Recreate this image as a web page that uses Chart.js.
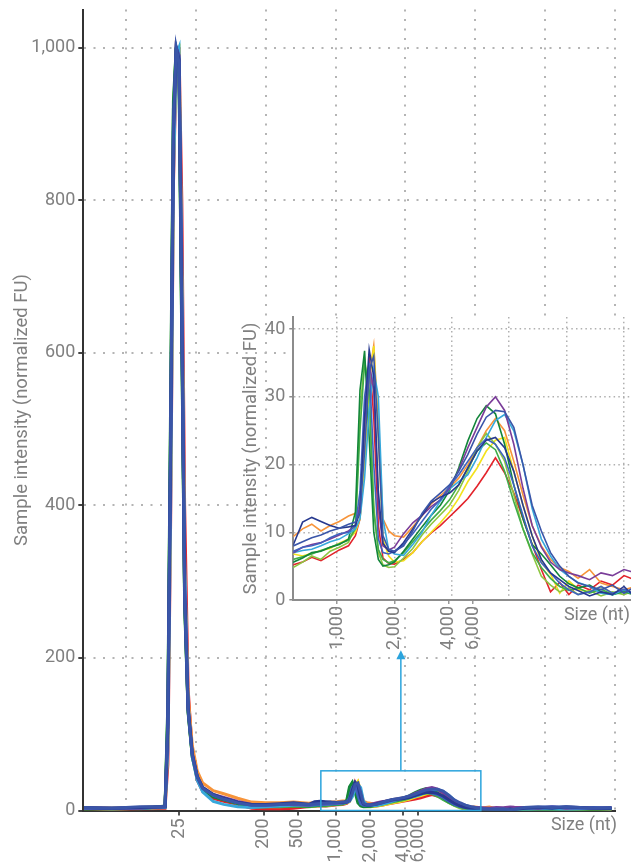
<!DOCTYPE html>
<html><head><meta charset="utf-8">
<script src="https://cdn.jsdelivr.net/npm/chart.js@4.4.0/dist/chart.umd.min.js"></script>
<style>
html,body{margin:0;padding:0;background:#fff;}
#wrap{position:relative;width:631px;height:867px;overflow:hidden;}
#main{position:absolute;left:0;top:0;}
#inset{position:absolute;left:240px;top:305px;}
</style></head><body>
<div id="wrap"><canvas id="main" width="631" height="867"></canvas><canvas id="inset" width="391" height="360"></canvas></div>
<script>
// ---------- DATA ----------
// migration-position axis (arbitrary units; size ladder labels mapped below)
const T = [4, 8, 12, 15.6, 16.0, 16.4, 16.8, 17.2, 17.6, 18.0, 18.4, 18.9, 19.5, 20.2, 21, 22.5, 24, 26, 28, 30, 32, 34,
  36.2, 37, 37.8, 38.6, 39.4, 40.2, 41, 41.6, 42, 42.4, 42.8, 43.2, 43.6, 44, 44.5, 45, 45.8, 46.6, 47.4, 48.2, 49, 49.8, 50.6, 51.4, 52.2, 53, 53.8, 54.6, 55.4, 56.2, 57, 57.8, 58.6, 59.4, 60.2, 61, 62, 63, 64, 65, 65.6,
  67, 69, 71, 73, 75, 77, 79.5];

const blue = [4,3,5,5,120,500,900,1000,980,640,280,130,72,44,29,20,15,10,7,7,8,9,
  8.0,8.6,9.2,9.6,10.2,10.6,11.2,11.5,13,22,34,36,24,9.5,7.5,7.2,8.0,10.2,12.8,14.6,15.8,17.0,19.0,21.5,24.5,27.0,28.0,27.8,25.5,20.0,14.0,10.2,7.0,5.0,3.5,2.5,2.0,1.5,2.2,1.0,1.6,
  4,5,4,5,4,3,4];
const navy = [4,3,4,5,110,480,890,1000,985,650,285,135,74,45,30,21,16,11,8,8,9,10,
  8.2,11.5,12.2,11.6,11.0,10.6,10.8,11,13,27,37,33,16,8.4,7.2,7.0,8.5,10.5,12.5,14.4,15.2,15.8,17.0,19.5,22.0,23.6,24.0,22.5,19.0,14.0,9.5,6.0,4.0,3.0,2.0,1.4,0.6,1.2,0.8,2.0,1.0,
  3,4,3,5,4,3,3];
const blue2 = [3,3,4,5,115,490,895,1000,988,645,290,133,73,44,29,20,15,10,7,7,8,9,
  7.2,7.8,8.0,8.4,9.2,9.8,10.0,11,16,30,35,20,9.0,7.0,6.8,7.2,8.2,9.8,11.6,13.4,14.8,16.8,18.5,20.5,22.5,23.8,23.0,21.0,17.0,12.5,8.0,5.5,4.0,2.5,1.5,0.8,1.2,2.0,1.0,1.6,1.2,
  3,4,5,4,3,4,3];
const purple = [3,3,3,5,105,470,880,1000,990,660,295,135,75,45,30,21,17,12,8,8,8,8,
  7.0,7.8,8.2,8.5,9.0,9.6,10.2,11,14,26,35,31,14,8.0,7.4,7.8,9.8,11.4,12.5,13.8,14.8,16.5,19.2,22.5,25.5,28.5,30.0,28.0,23.0,16.5,11.0,7.8,5.6,4.5,4.0,3.6,3.0,4.0,3.6,4.5,4.2,
  4,3,5,3,4,3,4];
const cyan = [3,2,3,4,80,400,830,990,1000,720,330,140,70,40,24,12,8,5,4,5,6,7,
  7.0,7.3,7.5,8.0,8.6,9.0,9.8,10.5,12,18,28,34,30,12,7.4,6.8,6.6,8.2,10.0,12.5,14.6,16.4,17.5,18.5,21.0,24.0,26.5,27.4,25.0,20.0,13.5,9.0,6.5,4.5,3.5,2.6,2.0,1.0,0.8,1.5,1.0,
  1,2,2,1,2,3,2];
const darkGreen = [2,3,2,6,140,540,930,1000,960,610,270,128,70,42,27,18,14,9,5,5,6,6,
  5.6,6.2,7.0,7.2,7.8,8.2,9.0,13,31,36.8,24,10,6.0,5.0,5.2,5.6,7.2,9.0,10.8,12.5,14.0,16.2,19.5,23.5,26.8,28.7,27.5,23.0,17.0,12.0,8.2,6.8,5.2,3.5,2.4,1.8,2.2,1.2,0.8,1.4,1.0,
  2,1,1,2,2,1,3];
const green = [3,2,3,5,130,520,920,1000,970,620,275,132,72,44,29,20,16,10,6,6,6,7,
  6.0,6.4,6.8,7.3,7.8,8.3,8.8,10.5,25,35,31,13,7.5,6.0,5.5,5.8,7.0,8.6,10.2,11.8,13.2,14.8,17.0,19.5,22.0,23.2,22.2,19.0,14.5,10.5,7.0,4.8,3.2,2.0,1.4,1.8,1.0,1.6,0.8,1.2,0.9,
  1,2,1,2,1,1,2];
const lightGreen = [2,2,3,5,125,510,910,1000,975,630,280,130,70,43,28,19,15,9,5,5,5,6,
  4.8,5.6,6.5,6.0,7.2,7.8,8.5,11,28,35.5,30,14,7,5.2,4.8,4.9,6.2,7.6,9.6,11.2,12.6,14.0,16.2,19.0,22.5,24.6,23.0,20.5,15.5,10.5,6.8,3.5,2.2,1.2,1.8,0.8,1.4,0.6,1.2,0.8,1.2,
  1,1,2,1,1,2,1];
const yellow = [3,2,3,4,90,430,850,995,1000,680,300,135,72,44,29,20,16,11,7,6,6,7,
  6.8,6.5,6.9,7.3,7.6,8.4,9.0,10.0,12,20,32,37.5,24,9,6.5,5.6,5.8,7.0,8.6,10.0,11.4,13.0,15.0,17.5,19.5,22.0,23.6,24.0,19.0,14.0,9.5,5.6,3.8,1.0,2.8,1.6,1.2,2.0,1.0,1.5,1.2,
  1,2,1,2,1,3,2];
const orange = [4,3,4,5,100,460,870,1000,990,670,310,150,85,52,36,26,22,16,11,10,10,11,
  9.4,10.5,11.2,10.2,11.0,11.6,12.4,12.8,14,24,33,37.6,26,12,10.2,9.5,9.3,10.8,12.4,14.2,15.4,16.6,18.0,20.0,22.5,25.0,26.8,25.0,20.5,15.5,11.0,8.0,6.0,4.8,4.2,3.2,4.5,2.5,2.0,1.5,1.8,
  2,3,2,3,2,2,3];
const red = [3,1,2,3,60,380,820,980,1000,800,400,160,75,40,25,16,12,8,3,2,2,3,
  5.2,5.6,6.3,5.8,6.6,7.4,8.0,9.5,12,22,36,27,11,6.2,5.4,5.3,6.0,7.0,8.6,9.9,11.0,12.3,13.6,15.0,16.8,18.8,21.0,18.8,15.8,12.0,8.2,4.5,1.2,2.6,0.8,2.2,1.5,2.8,2.2,3.6,3.2,
  2,1,2,1,2,1,1];

// size ladder tick labels and their positions on the migration axis
const mainSizeLabels = ['25','200','500','1,000','2,000','4,000','6,000'];
const mainSizePos = [17.6, 29.7, 34.6, 40, 45, 49.7, 51.85];
const insetSizeLabels = ['1,000','2,000','4,000','6,000'];
const insetSizePos = [40, 45, 49.7, 51.85];
const mainGridT = [10,20,30,40,50,60,70,80];
const insetGridT = [40,45,50,55,60,65];
const mainYTicks = [0,200,400,600,800,1000];
const insetYTicks = [0,10,20,30,40];

// ---------- STYLE ----------
const seriesData = [blue, navy, blue2, purple, cyan, darkGreen, green, lightGreen, yellow, orange, red];
const seriesColors = ['#3a55a8','#27398f','#3f62bf','#7a3d99','#37a8db','#12863a','#40ad49','#8dc641','#f3e21c','#f7943a','#e3232b'];
const ACCENT = '#2ba4dd';
const TXT = '#808080';

Chart.defaults.font.family = 'Roboto, "Liberation Sans", sans-serif';
Chart.defaults.font.size = 18;
Chart.defaults.color = TXT;

function makeDatasets(width) {
  return seriesData.map((ys, k) => ({
    data: T.map((t, i) => ({x: t, y: ys[i]})),
    borderColor: seriesColors[k], borderWidth: width,
    pointRadius: 0, tension: 0, fill: false
  }));
}

function xAxis(min, max, gridT, labPos, labTxt, o) {
  return {
    type: 'linear', min, max,
    afterBuildTicks: s => {
      const ticks = gridT.map(v => ({value: v, grid: true, lbl: ''}));
      labPos.forEach((v, i) => ticks.push({value: v, grid: false, lbl: labTxt[i]}));
      ticks.sort((a, b) => a.value - b.value);
      s.ticks = ticks;
    },
    afterFit: s => { s.height = o.height; s.paddingLeft = 0; s.paddingRight = 0; },
    ticks: {autoSkip: false, maxRotation: 90, minRotation: 90, padding: o.pad, color: TXT,
      callback: (v, i, ts) => ts[i].lbl},
    grid: {
      color: c => (c.tick && c.tick.grid) ? o.gridColor : 'rgba(0,0,0,0)',
      tickColor: c => (c.tick && c.tick.lbl) ? o.tickColor : 'rgba(0,0,0,0)',
      lineWidth: o.gridWidth, tickBorderDash: [], tickLength: o.tickLen, drawTicks: true
    },
    border: {display: true, color: o.axisColor, width: 2, dash: o.dash}
  };
}

function yAxis(min, max, ticksArr, o) {
  return {
    type: 'linear', min, max,
    afterBuildTicks: s => { s.ticks = ticksArr.map(v => ({value: v})); },
    afterFit: s => { s.width = o.width; s.paddingTop = 0; s.paddingBottom = 0; },
    ticks: {padding: o.pad, color: TXT, callback: v => v.toLocaleString('en-US')},
    grid: {
      color: c => (c.tick && c.tick.value > 0) ? o.gridColor : 'rgba(0,0,0,0)',
      tickColor: o.tickColor, lineWidth: o.gridWidth, tickBorderDash: [], tickLength: o.tickLen
    },
    border: {display: true, color: o.axisColor, width: 2, dash: o.dash},
    title: {display: true, text: 'Sample intensity (normalized FU)', color: TXT, font: {size: 18.5}, padding: {top: o.titlePad, bottom: 0}}
  };
}

// main annotation: zoom box + arrow + axis caption
const boxT = [37.9, 60.8];
const boxY = [0, 52];
const arrowTipY = 210;
const mainDecor = {
  id: 'mainDecor',
  afterDraw(chart) {
    const ctx = chart.ctx, x = chart.scales.x, y = chart.scales.y, a = chart.chartArea;
    ctx.save();
    ctx.strokeStyle = ACCENT; ctx.fillStyle = ACCENT; ctx.lineWidth = 1.5;
    const x0 = x.getPixelForValue(boxT[0]), x1 = x.getPixelForValue(boxT[1]);
    const yt = y.getPixelForValue(boxY[1]), yb = y.getPixelForValue(boxY[0]);
    ctx.strokeRect(x0, yt, x1 - x0, yb - yt);
    const ax = (x0 + x1) / 2, ay = y.getPixelForValue(arrowTipY);
    ctx.beginPath(); ctx.moveTo(ax, yt); ctx.lineTo(ax, ay + 7); ctx.stroke();
    ctx.beginPath(); ctx.moveTo(ax, ay); ctx.lineTo(ax - 4.5, ay + 9); ctx.lineTo(ax + 4.5, ay + 9); ctx.closePath(); ctx.fill();
    ctx.fillStyle = TXT; ctx.font = '18px Roboto, sans-serif';
    ctx.textAlign = 'right'; ctx.textBaseline = 'middle';
    ctx.fillText('Size (nt)', a.right + 2, a.bottom + 15);
    ctx.restore();
  }
};

new Chart(document.getElementById('main'), {
  type: 'line',
  data: {datasets: makeDatasets(3)},
  options: {
    responsive: false, animation: false, devicePixelRatio: 1,
    layout: {autoPadding: false, padding: {left: 7, right: 16, top: 9.5, bottom: 0}},
    plugins: {legend: {display: false}, tooltip: {enabled: false}},
    scales: {
      x: xAxis(3.9, 80, mainGridT, mainSizePos, mainSizeLabels,
        {height: 56.5, pad: 3, gridColor: '#b4b4b4', tickColor: '#555', gridWidth: 2, dash: [2, 7.5], tickLen: 5, axisColor: '#333'}),
      y: yAxis(0, 1050, mainYTicks,
        {width: 76.3, pad: 3, gridColor: '#b4b4b4', tickColor: '#444', gridWidth: 2, dash: [2, 7.5], tickLen: 5, axisColor: '#333', titlePad: 4})
    }
  },
  plugins: [mainDecor]
});

const insetDecor = {
  id: 'insetDecor',
  beforeDraw(chart) {
    const a = chart.chartArea, ctx = chart.ctx;
    ctx.save(); ctx.fillStyle = '#fff'; ctx.fillRect(a.left, a.top, a.right - a.left, a.bottom - a.top); ctx.restore();
  },
  afterDraw(chart) {
    const a = chart.chartArea, ctx = chart.ctx;
    ctx.save(); ctx.fillStyle = TXT; ctx.font = '18px Roboto, sans-serif';
    ctx.textAlign = 'right'; ctx.textBaseline = 'middle';
    ctx.fillText('Size (nt)', a.right - 1, a.bottom + 15);
    ctx.restore();
  }
};

new Chart(document.getElementById('inset'), {
  type: 'line',
  data: {datasets: makeDatasets(1.6)},
  options: {
    responsive: false, animation: false, devicePixelRatio: 1,
    layout: {autoPadding: false, padding: {left: 0, right: 0, top: 12, bottom: 0}},
    plugins: {legend: {display: false}, tooltip: {enabled: false}},
    scales: {
      x: xAxis(36.19, 65.61, insetGridT, insetSizePos, insetSizeLabels,
        {height: 65, pad: 2, gridColor: '#b0b0b0', tickColor: '#999', gridWidth: 1.5, dash: [1.5, 3.2], tickLen: 4, axisColor: '#8c8c8c'}),
      y: yAxis(0, 41.8, insetYTicks,
        {width: 53.3, pad: 4, gridColor: '#b0b0b0', tickColor: '#8c8c8c', gridWidth: 1.5, dash: [1.5, 3.2], tickLen: 4, axisColor: '#8c8c8c', titlePad: 0})
    }
  },
  plugins: [insetDecor]
});
</script>
</body></html>
